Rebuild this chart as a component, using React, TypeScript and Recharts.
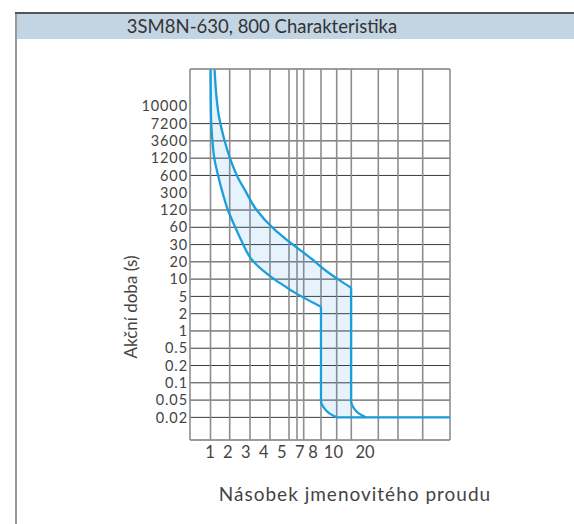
import { ComposedChart, Line, Area, XAxis, YAxis, CartesianGrid } from 'recharts';

// printed tick labels
const timeTicks = [10000, 7200, 3600, 1200, 600, 300, 120, 60, 30, 20, 10, 5, 2, 1, 0.5, 0.2, 0.1, 0.05, 0.02];
const currentTicks = [1, 2, 3, 4, 5, 7, 8, 10, 20];
// the current axis is hand drawn, not log: grid column (of 13) under each label
const currentTickColumns = [1, 1.89, 2.79, 3.69, 4.59, 5.49, 6.15, 7.17, 8.75];

// trip band: time (s) -> lower / upper multiple of In
const tripTimes = [20000, 8000, 3800, 1200, 560, 330, 125, 55, 35, 21, 14, 9.6, 7.1, 6.0, 2.9, 0.047, 0.033, 0.025, 0.02];
const minMultiple = [1.03, 1.06, 1.13, 1.24, 1.48, 1.67, 1.99, 2.47, 2.76, 3.34, 3.96, 4.65, 5.58, 6.3, 8.78, 8.78, 9.08, 9.57, 11.0];
const maxMultiple = [1.26, 1.52, 1.8, 2.12, 2.55, 2.96, 3.57, 4.59, 5.67, 7.98, 9.27, 11.9, 15.6, 15.6, 15.6, 15.6, 15.6, 15.6, 15.6];
// upper limit bends into the 0.02 s floor on its own
const maxBendTimes = [0.047, 0.033, 0.025, 0.02];
const maxBendMultiple = [15.6, 16.4, 17.9, 20.3];
const floorTime = 0.02;
const floorEndMultiple = 50;

const MAX_CORNER = 12; // index in tripTimes where upper curve turns vertical
const MIN_CORNER = 14;
const LAST = tripTimes.length - 1;

// frame of the plot in row / column units
const ROW_TOP = -2.16;
const ROW_BOTTOM = 19.31;
const gridRows = [ROW_TOP, 1, 2, 3, 4, 6, 7, 8, 9, 10, 11, 12, 13, 14, 15, 16, 17, 18, ROW_BOTTOM];
const gridColumns = [0, 1.025, 1.985, 3, 4, 4.95, 5.35, 5.685, 6.55, 7.335, 8.065, 9.415, 10.4, 11.635, 13];

const BLUE = '#1a9edc';
const FONT = 'Lato, "Open Sans", sans-serif';

const tickLogs = timeTicks.map((t) => Math.log10(t));
// time labels are evenly spaced, log between neighbours
function toRow(t: number) {
  const l = Math.log10(t);
  let i = 0;
  while (i < tickLogs.length - 2 && l < tickLogs[i + 1]) i++;
  return i + (tickLogs[i] - l) / (tickLogs[i] - tickLogs[i + 1]);
}

function toCol(m: number) {
  if (m <= currentTicks[0]) return (m / currentTicks[0]) * currentTickColumns[0];
  let i = 0;
  while (i < currentTicks.length - 2 && m > currentTicks[i + 1]) i++;
  const f = (m - currentTicks[i]) / (currentTicks[i + 1] - currentTicks[i]);
  return currentTickColumns[i] + f * (currentTickColumns[i + 1] - currentTickColumns[i]);
}

const curve = (mult: number[], from: number, to: number) =>
  tripTimes.slice(from, to + 1).map((t, k) => ({ row: toRow(t), x: toCol(mult[from + k]) }));

const band = (from: number, to: number) =>
  tripTimes.slice(from, to + 1).map((t, k) => ({
    row: toRow(t),
    band: [toCol(minMultiple[from + k]), toCol(maxMultiple[from + k])],
  }));

const maxCurve = curve(maxMultiple, 0, MAX_CORNER);
const maxDrop = [
  { row: toRow(tripTimes[MAX_CORNER]), x: toCol(maxMultiple[MAX_CORNER]) },
  ...maxBendTimes.map((t, i) => ({ row: toRow(t), x: toCol(maxBendMultiple[i]) })),
];
const minCurve = curve(minMultiple, 0, MIN_CORNER);
const minDrop = curve(minMultiple, MIN_CORNER, LAST);
const floor = [
  { row: toRow(floorTime), x: toCol(minMultiple[LAST]) },
  { row: toRow(floorTime), x: toCol(floorEndMultiple) },
];

const bandTop = band(0, MAX_CORNER);
const bandMid = band(MAX_CORNER, MIN_CORNER);
const bandLow = band(MIN_CORNER, LAST);

const xTickStyle = { fill: '#444', fontSize: 16.5, fontFamily: FONT };
const yTickStyle = { fill: '#444', fontSize: 14.5, fontFamily: FONT, letterSpacing: 0.9 };

export default function App() {
  return (
    <div
      style={{
        position: 'absolute',
        left: 0,
        top: 0,
        width: 574,
        height: 524,
        background: '#fff',
        fontFamily: FONT,
        overflow: 'hidden',
      }}
    >
      <div style={{ position: 'absolute', left: 15, top: 12, width: 2, height: 512, background: '#9a9a9a' }} />
      <div style={{ position: 'absolute', left: 15, top: 12, width: 559, height: 1.5, background: '#555' }} />
      <div style={{ position: 'absolute', left: 17, top: 13.5, width: 557, height: 25.5, background: '#c3d4e3' }} />
      <div
        style={{
          position: 'absolute',
          left: 0,
          top: 13,
          width: 524,
          height: 26,
          lineHeight: '26px',
          textAlign: 'center',
          fontSize: 18.5,
          color: '#333',
        }}
      >
        3SM8N-630, 800 Charakteristika
      </div>
      <div style={{ position: 'absolute', left: 0, top: 0 }}>
        <ComposedChart
          width={574}
          height={524}
          layout="vertical"
          margin={{ top: 69, right: 124, bottom: 54, left: 100 }}
        >
          <CartesianGrid vertical={false} horizontalValues={gridRows} stroke="#3a3a3a" strokeWidth={1} />
          <CartesianGrid horizontal={false} verticalValues={gridColumns} stroke="#8e8e8e" strokeWidth={1.6} />
          <XAxis
            type="number"
            domain={[0, 13]}
            allowDataOverflow
            ticks={currentTicks.map(toCol)}
            tickFormatter={(_v: number, i: number) => String(currentTicks[i])}
            interval={0}
            axisLine={false}
            tickLine={false}
            tickSize={0}
            tickMargin={6}
            height={30}
            tick={xTickStyle}
            label={(p: any) => {
              const vb = p.viewBox || { x: 190, y: 440 };
              return (
                <text
                  x={vb.x + 165}
                  y={vb.y + 60.5}
                  textAnchor="middle"
                  fill="#444"
                  fontSize={19}
                  letterSpacing={1}
                  fontFamily={FONT}
                >
                  Násobek jmenovitého proudu
                </text>
              );
            }}
          />
          <YAxis
            type="number"
            dataKey="row"
            domain={[ROW_TOP, ROW_BOTTOM]}
            allowDataOverflow
            ticks={timeTicks.map((_, i) => i)}
            tickFormatter={(v: number) => String(timeTicks[Math.round(v)])}
            interval={0}
            axisLine={false}
            tickLine={false}
            tickSize={0}
            tickMargin={2}
            width={90}
            tick={yTickStyle}
            label={(p: any) => {
              const vb = p.viewBox || { x: 100, y: 69 };
              const cx = vb.x + 36.5;
              const cy = vb.y + 238;
              return (
                <text
                  x={cx}
                  y={cy}
                  transform={`rotate(-90 ${cx} ${cy})`}
                  textAnchor="middle"
                  fill="#444"
                  fontSize={17}
                  fontFamily={FONT}
                >
                  Akční doba (s)
                </text>
              );
            }}
          />
          <Area data={bandTop} dataKey="band" type="monotone" stroke="none" fill="#2196e0" fillOpacity={0.11} isAnimationActive={false} />
          <Area data={bandMid} dataKey="band" type="monotone" stroke="none" fill="#2196e0" fillOpacity={0.11} isAnimationActive={false} />
          <Area data={bandLow} dataKey="band" type="monotone" stroke="none" fill="#2196e0" fillOpacity={0.11} isAnimationActive={false} />
          <Line data={maxCurve} dataKey="x" type="monotone" stroke={BLUE} strokeWidth={2.3} dot={false} isAnimationActive={false} />
          <Line data={maxDrop} dataKey="x" type="monotone" stroke={BLUE} strokeWidth={2.3} dot={false} isAnimationActive={false} />
          <Line data={minCurve} dataKey="x" type="monotone" stroke={BLUE} strokeWidth={2.3} dot={false} isAnimationActive={false} />
          <Line data={minDrop} dataKey="x" type="monotone" stroke={BLUE} strokeWidth={2.3} dot={false} isAnimationActive={false} />
          <Line data={floor} dataKey="x" type="linear" stroke={BLUE} strokeWidth={2.3} dot={false} isAnimationActive={false} />
        </ComposedChart>
      </div>
    </div>
  );
}
